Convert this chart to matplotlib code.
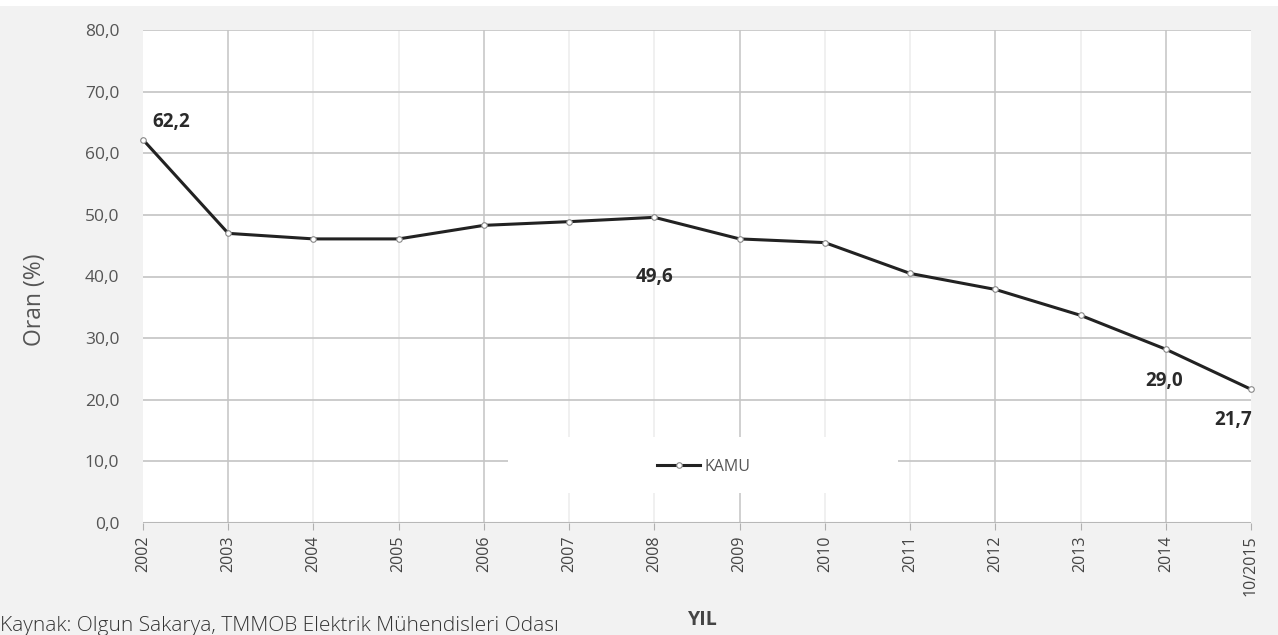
import matplotlib.pyplot as plt
from matplotlib.patches import Rectangle
import numpy as np

years = ['2002', '2003', '2004', '2005', '2006', '2007', '2008',
         '2009', '2010', '2011', '2012', '2013', '2014', '10/2015']
kamu = [62.2, 47.0, 46.1, 46.1, 48.3, 48.9, 49.6,
        46.1, 45.5, 40.5, 37.9, 33.7, 28.2, 21.7]
# labelled points: (index, text)
point_labels = [(0, '62,2'), (6, '49,6'), (12, '29,0'), (13, '21,7')]
yticks = [0, 10, 20, 30, 40, 50, 60, 70, 80]

plt.rcParams['font.family'] = ['Open Sans', 'DejaVu Sans']

W, H = 1278, 635
fig = plt.figure(figsize=(W / 100, H / 100), dpi=100, facecolor='#f2f2f2')
ax = fig.add_axes([143 / W, 1 - 523 / H, (1251 - 143) / W, (523 - 30) / H])
ax.set_facecolor('white')
# thin white border at the top of the picture
fig.patches.append(Rectangle((0, 1 - 6 / H), 1, 6 / H, transform=fig.transFigure,
                             facecolor='white', edgecolor='none'))

x = np.arange(len(years))
ax.plot(x, kamu, color='#222222', lw=2.2, marker='o', markersize=4,
        markerfacecolor='white', markeredgecolor='#888888', markeredgewidth=0.8,
        label='KAMU', zorder=4, clip_on=False)

ax.set_xlim(0, len(years) - 1)
ax.set_ylim(0, 80)
ax.set_yticks(yticks)
ax.set_yticklabels(['%d,0' % v for v in yticks], fontsize=12.5, color='#555555')
ax.set_xticks(x)
ax.set_xticklabels(years, rotation=90, fontsize=11.5, color='#444444')

for s in ax.spines.values():
    s.set_visible(False)
ax.axhline(0, color='#b8b8b8', lw=1.5, zorder=2)
ax.grid(axis='y', color='#c4c4c4', lw=1.2)
# vertical grid is faint; some lines show stronger in the picture
strong = [1, 4, 7, 10, 12]
for i in x[1:-1]:
    ax.axvline(i, color='#c8c8c8' if int(i) in strong else '#eeeeee', lw=1.2, zorder=1)
ax.tick_params(axis='y', length=0, pad=17)
ax.tick_params(axis='x', length=5, color='#b0b0b0', pad=4)

offsets = {0: (7, 13, 'left', 'center'), 6: (0, -43, 'center', 'center'),
           12: (-1, -23, 'center', 'center'), 13: (1, -22, 'right', 'center')}
for i, txt in point_labels:
    dx, dy, ha, va = offsets[i]
    ax.annotate(txt, (x[i], kamu[i]), xytext=(dx, dy), textcoords='offset points',
                ha=ha, va=va, fontsize=13.5, fontweight='bold', color='#2a2a2a')

# white box behind the legend
ax.add_patch(Rectangle(((508 - 143) / 1108, (523 - 493) / 493), 390 / 1108, 56 / 493,
                       transform=ax.transAxes, facecolor='white', edgecolor='none',
                       zorder=3))
leg = ax.legend(loc='center', bbox_to_anchor=((704 - 143) / 1108, (523 - 467) / 493),
                frameon=False, fontsize=11.5, handlelength=2.7, handletextpad=0.3)
leg.set_zorder(5)
for t in leg.get_texts():
    t.set_color('#555555')

fig.text(35 / W, 1 - 300 / H, 'Oran (%)', fontsize=16.5, color='#555555',
         rotation=90, ha='center', va='center')
fig.text(703 / W, 1 - 620 / H, 'YIL', fontsize=14, fontweight='bold',
         color='#444444', ha='center', va='center')
fig.text(0.0, 1 - 626 / H, 'Kaynak: Olgun Sakarya, TMMOB Elektrik Mühendisleri Odası',
         fontsize=15, fontweight='light', color='#333333', ha='left', va='center')

fig.savefig('out.png', dpi=100, facecolor=fig.get_facecolor())
